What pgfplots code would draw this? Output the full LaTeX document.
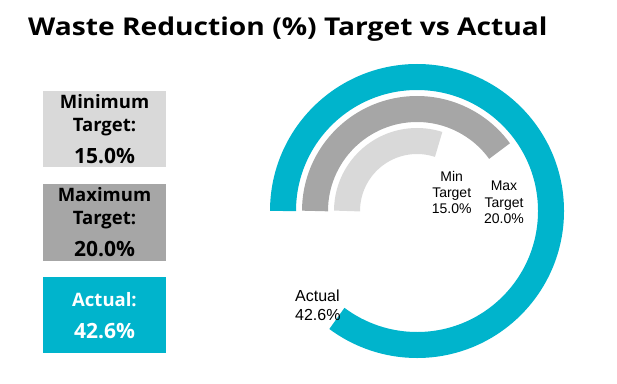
\documentclass[border=0pt]{standalone}
\usepackage{pgfplots}
\pgfplotsset{compat=1.18}
\usepackage{pgfplotstable}
\usepackage{fontspec}
\setmainfont{Open Sans}
\newfontfamily\titlefont[FakeStretch=1.15]{Open Sans}
\newfontfamily\lab{Liberation Sans}
\definecolor{actualc}{HTML}{00B4CC}
\definecolor{maxc}{HTML}{A6A6A6}
\definecolor{minc}{HTML}{D9D9D9}
% series value (%), ring radius (px)
\pgfplotstableread{
name value radius
Actual 42.6 134
Max 20.0 102
Min 15.0 70
}\ringdata
\begin{document}
\begin{tikzpicture}[x=1bp,y=1bp]
\path (0,0) rectangle (617,383);
% title
\node[anchor=base west, inner sep=0, font=\titlefont\fontsize{24.5bp}{28bp}\selectfont\bfseries] at (28,348) {Waste Reduction (\%) Target vs Actual};
% KPI boxes
\fill[minc] (43,216.3) rectangle (166,292);
\fill[maxc] (43,122.3) rectangle (166,199);
\fill[actualc] (43,29.7) rectangle (166,106);
\begin{scope}[every node/.style={anchor=base, inner sep=0}]
\node[font=\fontsize{18.5bp}{22bp}\selectfont\bfseries] at (104.5,274.7) {Minimum};
\node[font=\fontsize{18.5bp}{22bp}\selectfont\bfseries] at (104.5,251.3) {Target:};
\node[font=\fontsize{21bp}{25bp}\selectfont\bfseries] at (104.5,219.7) {15.0\%};
\node[font=\fontsize{18.5bp}{22bp}\selectfont\bfseries] at (104.5,181.3) {Maximum};
\node[font=\fontsize{18.5bp}{22bp}\selectfont\bfseries] at (104.5,159) {Target:};
\node[font=\fontsize{21bp}{25bp}\selectfont\bfseries] at (104.5,126.3) {20.0\%};
\node[text=white, font=\fontsize{18.5bp}{22bp}\selectfont\bfseries] at (104.5,77) {Actual:};
\node[text=white, font=\fontsize{21bp}{25bp}\selectfont\bfseries] at (104.5,44.7) {42.6\%};
\end{scope}
\begin{axis}[x=1bp, y=1bp, hide axis, clip=false,
  xmin=-150, xmax=150, ymin=-150, ymax=150,
  at={(417,172)}, anchor=origin]
\addplot[draw=none] coordinates {(0,0)};
% rings: angle = value/50*360, starting at 9 o'clock, clockwise
\pgfplotstablegetelem{0}{value}\of\ringdata \let\va\pgfplotsretval
\pgfplotstablegetelem{1}{value}\of\ringdata \let\vb\pgfplotsretval
\pgfplotstablegetelem{2}{value}\of\ringdata \let\vc\pgfplotsretval
\draw[line width=26bp, actualc] (axis cs:-134,0) arc[start angle=180, delta angle={-\va*7.2}, radius=134bp];
\draw[line width=26bp, maxc] (axis cs:-102,0) arc[start angle=180, delta angle={-\vb*7.2}, radius=102bp];
\draw[line width=26bp, minc] (axis cs:-70,0) arc[start angle=180, delta angle={-\vc*7.2}, radius=70bp];
\node[font=\lab\fontsize{14bp}{16.2bp}\selectfont, align=center, inner sep=0] at (axis cs:34.7,18.8) {Min\\Target\\15.0\%};
\node[font=\lab\fontsize{14bp}{16.2bp}\selectfont, align=center, inner sep=0] at (axis cs:87,8.6) {Max\\Target\\20.0\%};
\node[font=\lab\fontsize{16bp}{18.3bp}\selectfont, align=left, anchor=west, inner sep=0] at (axis cs:-122,-94.2) {Actual\\42.6\%};
\end{axis}
\end{tikzpicture}
\end{document}
